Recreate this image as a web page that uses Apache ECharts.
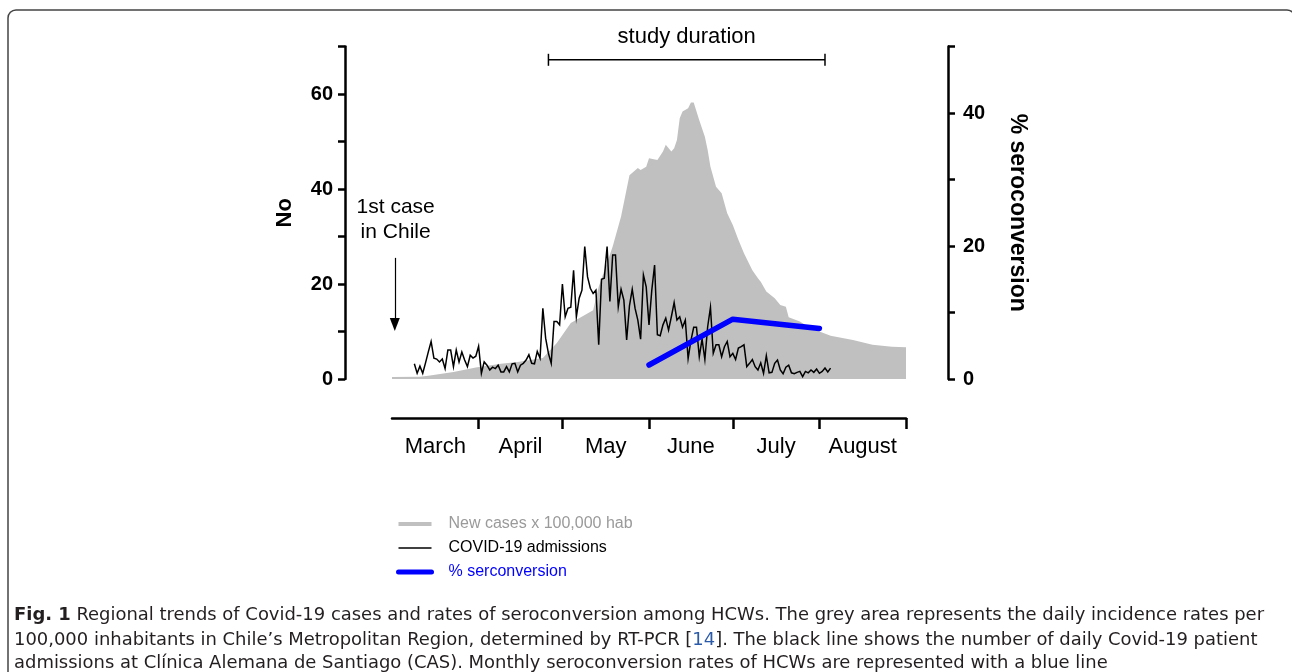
<!DOCTYPE html>
<html><head><meta charset="utf-8">
<script src="https://cdn.jsdelivr.net/npm/echarts@6/dist/echarts.min.js"></script>
<style>html,body{margin:0;padding:0;background:#fff}#c{width:1292px;height:672px}</style>
</head><body><div id="c"></div>
<script>
// ---------- DATA (days counted from 1 March 2020) ----------
const monthNames = ['March', 'April', 'May', 'June', 'July', 'August'];
const monthStarts = [0, 31, 61, 92, 122, 153, 184];

const caseDays = [0,10,13,22,30,39,45,54,59,64,72,74,79,82,85,88,89,91,92,95,97,98,100,101,102,103,104,106,107,108,110,112,113,114,116,118,120,122,124,126,129,131,132,134,137,139,141,142,146,150,157,165,172,179,184];
const caseValues = [0.4,0.5,0.7,1.5,2.4,3.2,3.6,4.4,7.6,11.8,14.5,19.4,27.9,34.2,42.9,44.4,44.0,44.7,46.5,46.1,47.9,49.3,47.9,48.6,50.3,54.9,56.3,57.0,58.2,58.2,54.5,51.0,48.2,44.7,40.5,39.1,34.9,32.4,29.3,26.5,22.9,21.2,20.5,18.4,17.0,15.6,15.2,13.0,12.1,10.7,9.1,8.2,7.2,6.8,6.7];

const admissionsStartDay = 8; // 9 March
const admissions = [
 3.2,1.2,2.7,1.2,3.4,5.7,7.9,4.4,4.2,3.6,4.2,2.2,6.1,6.1,2.6,6.1,3.6,5.7,4.0,2.6,5.0,4.4,4.8,6.9,1.2,3.6,2.9,1.9,2.5,2.2,2.9,1.5,1.5,2.6,1.5,3.2,
 3.3,1.5,2.9,3.3,4.0,5.1,3.3,3.2,5.8,4.4,14.9,8.6,5.4,3.3,12.1,12.1,11.4,20.0,13.1,14.9,15.1,22.9,13.1,17.0,18.7,27.9,21.5,19.1,18.0,18.7,7.2,21.0,21.2,27.9,16.3,26.1,26.1,15.2,18.9,16.6,8.2,15.4,18.9,14.9,12.4,8.4,21.9,
 19.4,11.4,18.7,24.0,9.3,9.1,11.4,12.8,10.3,13.1,16.1,12.4,13.1,10.9,12.4,4.3,8.1,10.9,10.9,4.7,8.4,4.1,11.0,15.1,5.4,7.2,7.2,4.7,6.8,7.9,4.7,5.4,4.1,6.5,6.8,7.2,2.6,3.3,4.1,2.6,1.9,3.4,1.2,4.9,1.3,1.4,3.3,
 4.0,1.9,1.1,2.5,2.9,1.3,1.1,1.4,1.6,0.5,1.6,1.3,1.9,1.4,2.1,1.2,1.6,2.3,1.5,2.3
];

const seroDays = [92, 122, 153];
const seroValues = [2.1, 9.0, 7.6];

const studyStartDay = 56, studyEndDay = 155;
const firstCaseDay = 1;

const leftTicks = [0, 20, 40, 60];
const rightTicks = [0, 20, 40];

const seriesNames = ['New cases x 100,000 hab', 'COVID-19 admissions', '% serconversion'];
const captionLines = [
  ['Fig. 1', ' Regional trends of Covid-19 cases and rates of seroconversion among HCWs. The grey area represents the daily incidence rates per'],
  ['100,000 inhabitants in Chile\u2019s Metropolitan Region, determined by RT-PCR [', '14', ']. The black line shows the number of daily Covid-19 patient'],
  ['admissions at Cl\u00ednica Alemana de Santiago (CAS). Monthly seroconversion rates of HCWs are represented with a blue line']
];

// ---------- BUILD ----------
const FONT = '"Liberation Sans", Arial, Helvetica, sans-serif';
const ctx = document.createElement('canvas').getContext('2d');
function hasFont(name) {
  const s = 'abcdefghijklmnopqrstuvwxyz0123456789';
  ctx.font = '20px monospace'; const a = ctx.measureText(s).width;
  ctx.font = '20px "' + name + '", monospace'; const b = ctx.measureText(s).width;
  return Math.abs(a - b) > 0.5;
}
const capCandidates = ['Liberation Sans Narrow', 'DejaVu Sans Condensed', 'Open Sans'];
const capName = capCandidates.find(hasFont) || 'Open Sans';
const CAPFONT = '"' + capName + '", "Open Sans", sans-serif';
const CAPSIZE = 17;
function tw(t, bold) { ctx.font = (bold ? 'bold ' : '') + CAPSIZE + 'px ' + CAPFONT; return ctx.measureText(t).width; }
const l1w = tw(captionLines[0][0], true) + tw(captionLines[0][1], false);
const capScale = 1250 / l1w;

const monthMids = monthNames.map((m, i) => (monthStarts[i] + monthStarts[i + 1]) / 2);
const caseData = caseDays.map((d, i) => [d, caseValues[i]]);
const admData = admissions.map((v, i) => [admissionsStartDay + i, v]);
const seroData = seroDays.map((d, i) => [d, seroValues[i]]);

const chart = echarts.init(document.getElementById('c'), null, { renderer: 'canvas' });
const option = {
  backgroundColor: '#fff',
  animation: false,
  textStyle: { fontFamily: FONT },
  grid: { left: 392, right: 386, top: 46.5, bottom: 293 },
  legend: {
    orient: 'vertical', left: 391, top: 511, itemWidth: 33, itemHeight: 14, itemGap: 8,
    textStyle: { fontSize: 16, fontFamily: FONT, padding: [0, 0, 0, 12] },
    selectedMode: false,
    data: [
      { name: seriesNames[0], itemStyle: { opacity: 0 }, lineStyle: { width: 4, color: '#c0c0c0' }, textStyle: { color: '#9a9a9a' } },
      { name: seriesNames[1], itemStyle: { opacity: 0 }, lineStyle: { width: 1.5, color: '#000' }, textStyle: { color: '#000' } },
      { name: seriesNames[2], itemStyle: { opacity: 0 }, lineStyle: { width: 5, color: '#0000ff', cap: 'round' }, textStyle: { color: '#0000ff' } }
    ]
  },
  xAxis: {
    type: 'value', min: 0, max: monthStarts[monthStarts.length - 1], position: 'bottom', offset: 39,
    splitLine: { show: false },
    axisLine: { onZero: false, lineStyle: { color: '#000', width: 2.5 } },
    axisTick: { show: true, inside: false, length: 11, customValues: monthStarts.slice(1), lineStyle: { color: '#000', width: 2.5 } },
    axisLabel: {
      customValues: monthMids, margin: 18, fontSize: 22, color: '#000', fontFamily: FONT,
      formatter: v => monthNames[monthMids.indexOf(v)] || ''
    }
  },
  yAxis: [
    {
      type: 'value', min: 0, max: 70, interval: 10, position: 'left', offset: 47,
      name: 'No', nameLocation: 'middle', nameGap: 49, nameRotate: 90,
      nameTextStyle: { fontSize: 22, fontWeight: 'bold', color: '#000', fontFamily: FONT },
      splitLine: { show: false },
      axisLine: { show: true, onZero: false, lineStyle: { color: '#000', width: 2.5 } },
      axisTick: { show: true, length: 7, lineStyle: { color: '#000', width: 2.5 } },
      axisLabel: { margin: 12, fontSize: 20, fontWeight: 'bold', color: '#000', fontFamily: FONT,
        formatter: v => leftTicks.includes(v) ? String(v) : '' }
    },
    {
      type: 'value', min: 0, max: 50, interval: 10, position: 'right', offset: 42,
      name: '% seroconversion', nameLocation: 'middle', nameGap: 58, nameRotate: -90,
      nameTextStyle: { fontSize: 23, fontWeight: 'bold', color: '#000', fontFamily: FONT },
      splitLine: { show: false },
      axisLine: { show: true, onZero: false, lineStyle: { color: '#000', width: 2.5 } },
      axisTick: { show: true, length: 7, lineStyle: { color: '#000', width: 2.5 } },
      axisLabel: { margin: 15, fontSize: 20, fontWeight: 'bold', color: '#000', fontFamily: FONT,
        formatter: v => rightTicks.includes(v) ? String(v) : '' }
    }
  ],
  series: [
    {
      name: seriesNames[0], type: 'line', data: caseData, yAxisIndex: 0, symbol: 'none', z: 1,
      color: '#c0c0c0', lineStyle: { width: 0, color: '#c0c0c0' },
      areaStyle: { color: '#c0c0c0', opacity: 1 }
    },
    {
      name: seriesNames[1], type: 'line', data: admData, yAxisIndex: 0, symbol: 'none', z: 3,
      color: '#000', lineStyle: { width: 1.5, color: '#000', join: 'miter' }
    },
    {
      name: seriesNames[2], type: 'line', data: seroData, yAxisIndex: 1, symbol: 'none', z: 4,
      color: '#0000ff', lineStyle: { width: 5.5, color: '#0000ff', cap: 'round', join: 'round' }
    },
    {
      // study duration bracket
      name: 'study', type: 'line', yAxisIndex: 0, clip: false, z: 5, silent: true,
      data: [[studyStartDay, 67.2], [studyEndDay, 67.2]],
      symbol: 'rect', symbolSize: [1.5, 12], showSymbol: true, showAllSymbol: true,
      itemStyle: { color: '#000' }, lineStyle: { color: '#000', width: 1.5 },
      markPoint: {
        symbol: 'circle', symbolSize: 1, itemStyle: { color: 'rgba(0,0,0,0)' },
        label: { show: true, position: 'inside', offset: [0, -23], formatter: 'study duration', fontSize: 22, color: '#000', fontFamily: FONT },
        data: [{ coord: [(studyStartDay + studyEndDay) / 2, 67.2] }]
      }
    },
    {
      // first case annotation
      name: 'firstcase', type: 'line', yAxisIndex: 0, data: [], clip: false, silent: true,
      markLine: {
        silent: true, symbol: ['none', 'triangle'], symbolSize: [10, 13],
        label: { show: false }, lineStyle: { color: '#000', width: 1.2, type: 'solid' },
        data: [[{ coord: [firstCaseDay, 25.5] }, { coord: [firstCaseDay, 11.5] }]]
      },
      markPoint: {
        symbol: 'circle', symbolSize: 1, itemStyle: { color: 'rgba(0,0,0,0)' },
        label: { show: true, position: 'inside', formatter: '1st case\nin Chile', fontSize: 21, lineHeight: 25, color: '#000', fontFamily: FONT },
        data: [{ coord: [firstCaseDay + 0.3, 33.5] }]
      }
    }
  ],
  graphic: [
    { type: 'rect', silent: true, z: -10, shape: { x: 8, y: 10, width: 1287, height: 760, r: 8 },
      style: { fill: 'none', stroke: '#444', lineWidth: 1.5 } },
    { type: 'text', x: 14, y: 616, scaleX: capScale, silent: true,
      style: { text: '{b|' + captionLines[0][0] + '}' + captionLines[0][1], fontSize: CAPSIZE, fontFamily: CAPFONT, fill: '#231f20', verticalAlign: 'middle',
        rich: { b: { fontWeight: 'bold', fontSize: CAPSIZE, fontFamily: CAPFONT, fill: '#231f20' } } } },
    { type: 'text', x: 14, y: 641, scaleX: capScale, silent: true,
      style: { text: captionLines[1][0] + '{l|' + captionLines[1][1] + '}' + captionLines[1][2], fontSize: CAPSIZE, fontFamily: CAPFONT, fill: '#231f20', verticalAlign: 'middle',
        rich: { l: { fontSize: CAPSIZE, fontFamily: CAPFONT, fill: '#2b5aa8' } } } },
    { type: 'text', x: 14, y: 664, scaleX: capScale, silent: true,
      style: { text: captionLines[2][0], fontSize: CAPSIZE, fontFamily: CAPFONT, fill: '#231f20', verticalAlign: 'middle' } }
  ]
};
chart.setOption(option);
</script></body></html>
